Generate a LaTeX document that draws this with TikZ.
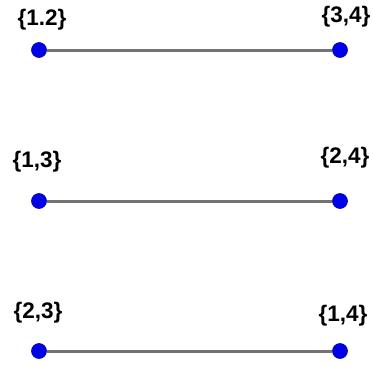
\documentclass[tikz,border=0pt]{standalone}
\usepackage{fontspec}
\setmainfont{Liberation Sans}
\definecolor{vertexblue}{RGB}{0,0,235}
\definecolor{edgegray}{RGB}{115,115,115}
\tikzset{
  vertex/.style={circle, fill=vertexblue, draw=vertexblue!70!black, line width=0.6pt, inner sep=0pt, minimum size=15pt},
  edge/.style={draw=edgegray, line width=3pt},
  lab/.style={font=\bfseries\fontsize{22.5}{26}\selectfont, inner sep=0pt}
}
\begin{document}
\begin{tikzpicture}[x=1pt, y=-1pt]
  \useasboundingbox (0,0) rectangle (373,367);
  % vertices
  \node[vertex] (A1) at (39,50) {};
  \node[vertex] (B1) at (340,50) {};
  \node[vertex] (A2) at (39,201) {};
  \node[vertex] (B2) at (340,201) {};
  \node[vertex] (A3) at (39,351) {};
  \node[vertex] (B3) at (340,351) {};
  % edges
  \draw[edge] (A1)--(B1);
  \draw[edge] (A2)--(B2);
  \draw[edge] (A3)--(B3);
  % labels
  \node[lab] (LA1) at (42,20) {\{1.2\}};
  \node[lab] (LB1) at (346,17) {\{3,4\}};
  \node[lab] (LA2) at (37,162) {\{1,3\}};
  \node[lab] (LB2) at (345,158) {\{2,4\}};
  \node[lab] (LA3) at (38,313) {\{2,3\}};
  \node[lab] (LB3) at (343,316) {\{1,4\}};
\end{tikzpicture}
\end{document}
